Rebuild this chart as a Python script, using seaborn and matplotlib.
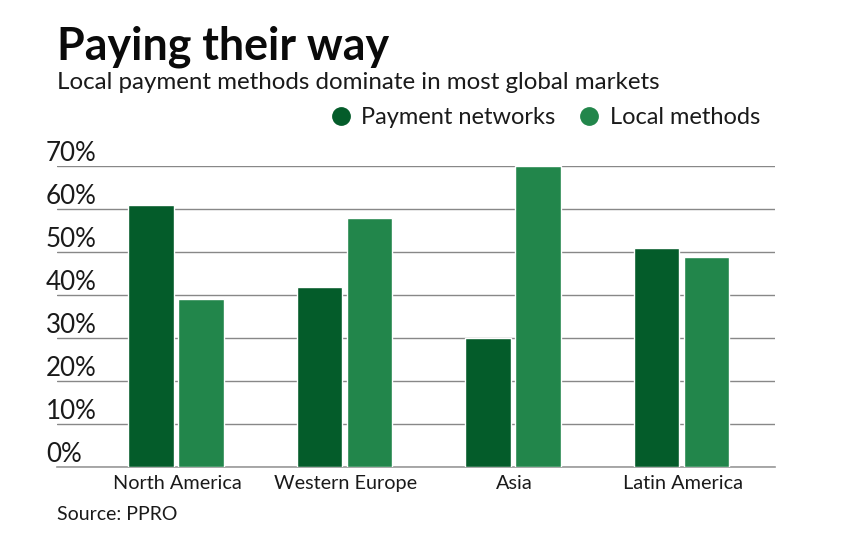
import matplotlib
matplotlib.use('Agg')
import matplotlib.pyplot as plt
from matplotlib.lines import Line2D
from matplotlib.transforms import ScaledTranslation
import pandas as pd
import seaborn as sns

regions = ['North America', 'Western Europe', 'Asia', 'Latin America']
payment_networks = [61, 42, 30, 51]
local_methods = [39, 58, 70, 49]
yticks = [0, 10, 20, 30, 40, 50, 60, 70]
dark = '#045c2a'
light = '#22864b'

sns.set_theme(style='white')
plt.rcParams['font.family'] = ['Lato', 'DejaVu Sans']

df = pd.DataFrame({'region': regions * 2,
                   'share': payment_networks + local_methods,
                   'method': ['Payment networks'] * 4 + ['Local methods'] * 4})

W, H = 844, 550
fig = plt.figure(figsize=(W / 100, H / 100), dpi=100, facecolor='white')
ax = fig.add_axes([57 / W, 1 - 467 / H, 718 / W, 300.7 / H])

sns.barplot(data=df, x='region', y='share', hue='method', ax=ax,
            palette=[dark, light], width=0.594, gap=0.09, legend=False,
            saturation=1, zorder=3)

ax.set_xlim(-0.706, 3.555)
ax.set_ylim(0, 70)
ax.set_xlabel('')
ax.set_ylabel('')
ax.set_yticks(yticks)
ax.set_yticklabels([f'{v}%' for v in yticks], ha='left', va='bottom', fontsize=18.7, color='#1a1a1a')
ax.tick_params(axis='y', length=0, pad=8)
ax.tick_params(axis='x', length=0, pad=6, labelsize=14.3, labelcolor='#1a1a1a')
# region labels sit slightly right of the bar group centres
for lab in ax.get_xticklabels():
    lab.set_transform(lab.get_transform() + ScaledTranslation(1.5 / 100, 0, fig.dpi_scale_trans))
ax.grid(axis='y', color='#888888', lw=1, zorder=0)
ax.set_axisbelow(True)
sns.despine(ax=ax, left=True, top=True, right=True)
ax.spines['bottom'].set_color('#999999')
ax.spines['bottom'].set_linewidth(1.2)

handles = [Line2D([], [], ls='', marker='o', ms=12.5, color=dark, label='Payment networks'),
           Line2D([], [], ls='', marker='o', ms=12.5, color=light, label='Local methods')]
fig.legend(handles=handles, ncol=2, frameon=False, fontsize=17, loc='center right',
           bbox_to_anchor=(760 / W, 1 - 118 / H), handletextpad=-0.13, columnspacing=0.42,
           borderpad=0, borderaxespad=0, labelcolor='#1a1a1a')

fig.text(57 / W, 1 - 60 / H, 'Paying their way', fontsize=32.2, fontweight='bold', color='#0a0a0a')
fig.text(57 / W, 1 - 89 / H, 'Local payment methods dominate in most global markets', fontsize=17.4, color='#1a1a1a')
fig.text(57 / W, 1 - 520 / H, 'Source: PPRO', fontsize=14, color='#1a1a1a')

fig.savefig('out.png', dpi=100)
